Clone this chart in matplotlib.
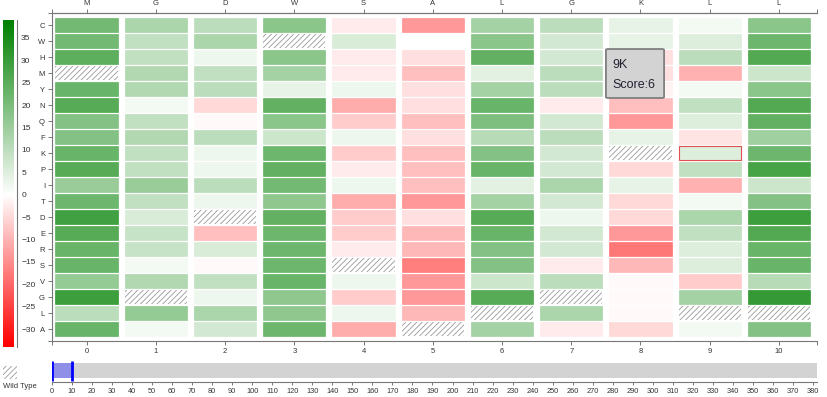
import numpy as np
import matplotlib
matplotlib.use('Agg')
import matplotlib.pyplot as plt
from matplotlib.colors import LinearSegmentedColormap, TwoSlopeNorm
from matplotlib.patches import FancyBboxPatch

plt.rcParams['font.family'] = ['Liberation Sans', 'DejaVu Sans']
plt.rcParams['hatch.linewidth'] = 0.6

# wild type residues along the sequence (positions 0..10)
residues = ['M', 'G', 'D', 'W', 'S', 'A', 'L', 'G', 'K', 'L', 'L']
positions = list(range(len(residues)))
# substituted amino acids (rows)
mutants = ['C', 'W', 'H', 'M', 'Y', 'N', 'Q', 'F', 'K', 'P',
           'I', 'T', 'D', 'E', 'R', 'S', 'V', 'G', 'L', 'A']

WT = None        # wild type cell (hatched)
nan = np.nan     # no score

# scores per position, in the order of `mutants`
s0 = [25, 25, 29, WT, 27, 30, 22, 22, 27, 30, 18, 26, 34, 30, 27, 27, 19, 35, 12, 27]
s1 = [15, 11, 11, 14, 14, 2, 11, 14, 11, 11, 18, 11, 7, 10, 10, 2, 14, WT, 19, 2]
s2 = [12, 15, 3, 11, 12, -6, -1, 12, 3, 3, 12, 3, WT, -10, 7, -1, 11, 3, 15, 8]
s3 = [21, WT, 21, 16, 4, 28, 21, 9, 26, 28, 25, 20, 28, 26, 26, 26, 27, 20, 20, 26]
s4 = [-3, 7, -3, -3, 3, -13, -8, 3, -8, -3, 3, -13, -8, -8, -3, WT, 3, -8, 3, -13]
s5 = [-16, nan, -5, -10, -5, -5, -10, -5, -10, -10, -10, -16, -5, -11, -11, -20, -16, -16, -11, WT]
s6 = [16, 21, 28, 5, 16, 27, 23, 13, 22, 27, 5, 16, 30, 27, 22, 22, 9, 30, WT, 16]
s7 = [12, 8, 8, 12, 12, -3, 8, 12, 8, 8, 15, 8, 3, 8, 8, -3, 12, WT, 15, -3]
s8 = [4, 4, -5, -5, -2, -10, -16, 4, WT, -6, 4, -6, -6, -16, -21, -11, -1, -1, -1, -6]
s9 = [2, 6, 12, -12, 2, 11, 6, -4, 6, 11, -12, 2, 15, 11, 6, 6, -8, 16, WT, 2]
s10 = [21, 26, 31, 9, 21, 31, 28, 17, 26, 33, 9, 22, 35, 31, 27, 27, 13, 36, WT, 22]
scores = [s0, s1, s2, s3, s4, s5, s6, s7, s8, s9, s10]

score_min, score_max = -34, 39
cbar_ticks = list(range(-30, 36, 5))

# hovered cell shown in the tooltip
hover_pos, hover_mut = 9, 'K'

# brush below the heatmap
seq_len = 382
brush_sel = [0, 10]

cmap = LinearSegmentedColormap.from_list('rg', [(1, 0, 0), (1, 1, 1), (0, 0.5, 0)])
norm = TwoSlopeNorm(vmin=score_min, vcenter=0, vmax=score_max)

W_PX, H_PX = 828, 397
fig = plt.figure(figsize=(W_PX / 100, H_PX / 100), dpi=100)

def fx(px):
    return px / W_PX

def fy(py):
    return 1 - py / H_PX

axis_col = '#777777'
text_col = '#333333'

# ---- heatmap
ax = fig.add_axes([fx(52), fy(341), fx(765), 328 / H_PX])
for j, col in enumerate(scores):
    for i, v in enumerate(col):
        if v is None:
            ax.bar(positions[j], 0.9, bottom=i - 0.45, width=0.9, color='white',
                   edgecolor='#999999', hatch='//////', linewidth=0)
        elif np.isnan(v):
            continue
        else:
            c = cmap(norm(v))
            ax.bar(positions[j], 0.9, bottom=i - 0.45, width=0.9,
                   color=(c[0], c[1], c[2], 0.85), edgecolor=c, linewidth=0.4)

hi = mutants.index(hover_mut)
ax.bar(hover_pos, 0.9, bottom=hi - 0.45, width=0.9, fill=False,
       edgecolor='#e05050', linewidth=0.8)

xlim = (-0.5, 10.55)
ylim = (len(mutants) - 0.25, -0.75)
ax.set_xlim(*xlim)
ax.set_ylim(*ylim)
ax.set_xticks(positions)
ax.set_xticklabels([str(p) for p in positions])
ax.set_xticks(xlim, minor=True)
ax.set_yticks(range(len(mutants)))
ax.set_yticklabels(mutants)
ax.set_yticks(ylim, minor=True)
for s in ['top', 'bottom', 'left']:
    ax.spines[s].set_color(axis_col)
    ax.spines[s].set_linewidth(0.8)
ax.spines['right'].set_visible(False)
ax.tick_params(axis='both', which='both', colors=axis_col, labelcolor=text_col, labelsize=5.5,
               length=3, width=0.7, pad=2)
top = ax.secondary_xaxis('top')
top.set_xticks(positions, residues)
top.set_xticks(xlim, minor=True)
top.tick_params(which='both', colors=axis_col, labelcolor=text_col, labelsize=5.5,
                length=3, width=0.7, pad=1.5)
top.spines['top'].set_color(axis_col)

# ---- colorbar on the left
cax = fig.add_axes([fx(3), fy(347), fx(14), 327 / H_PX])
grad = np.linspace(score_max, score_min, 400)[:, None]
cax.imshow(grad, extent=(0, 11, score_min, score_max), aspect='auto', cmap=cmap, norm=norm)
cax.set_xlim(0, 14)
cax.set_ylim(score_min, score_max)
cax.set_xticks([])
cax.yaxis.tick_right()
cax.set_yticks(cbar_ticks)
cax.tick_params(axis='y', colors=axis_col, labelcolor=text_col, labelsize=6, length=0, pad=3)
for s in ['top', 'bottom', 'left']:
    cax.spines[s].set_visible(False)
cax.spines['right'].set_color(axis_col)
cax.spines['right'].set_linewidth(0.8)

# ---- tooltip
tip = FancyBboxPatch((fx(608), fy(97)), fx(54), 47 / H_PX, transform=fig.transFigure,
                     boxstyle='round,pad=0.0025', facecolor='#d3d3d3', edgecolor='#7f7f7f',
                     linewidth=1.3, zorder=10)
fig.patches.append(tip)
hover_score = scores[hover_pos][hi]
fig.text(fx(612), fy(65), f'{hover_pos}{hover_mut}', fontsize=9, color='#222233',
         va='center', ha='left', zorder=11)
fig.text(fx(612), fy(85), f'Score:{hover_score}', fontsize=9, color='#222233',
         va='center', ha='left', zorder=11)

# ---- brush
bax = fig.add_axes([fx(52), fy(382), fx(765), 21 / H_PX])
bax.barh(0.55, seq_len, left=0, height=0.71, color='#d3d3d3')
bax.barh(0.55, brush_sel[1] - brush_sel[0], left=brush_sel[0], height=0.71,
         color=(0.45, 0.45, 0.95, 0.7))
bax.vlines(brush_sel, 0.05, 1.0, color='#0000ff', linewidth=2)
bax.set_xlim(0, seq_len)
bax.set_ylim(0, 1)
bax.set_yticks([])
bax.set_xticks(range(0, seq_len, 10))
for s in ['top', 'left', 'right']:
    bax.spines[s].set_visible(False)
bax.spines['bottom'].set_color(axis_col)
bax.spines['bottom'].set_linewidth(0.8)
bax.tick_params(axis='x', colors=axis_col, labelcolor=text_col, labelsize=5.3,
                length=2.5, width=0.7, pad=1.5)

# ---- wild type legend
lax = fig.add_axes([fx(3), fy(379), fx(14), 13 / H_PX])
lax.bar(0.5, 1, width=1, color='white', edgecolor='#999999', hatch='//////', linewidth=0)
lax.set_xlim(0, 1)
lax.set_ylim(0, 1)
lax.axis('off')
fig.text(fx(3), fy(386), 'Wild Type', fontsize=5.5, color=text_col, va='center', ha='left')

fig.savefig('out.png', dpi=100)
